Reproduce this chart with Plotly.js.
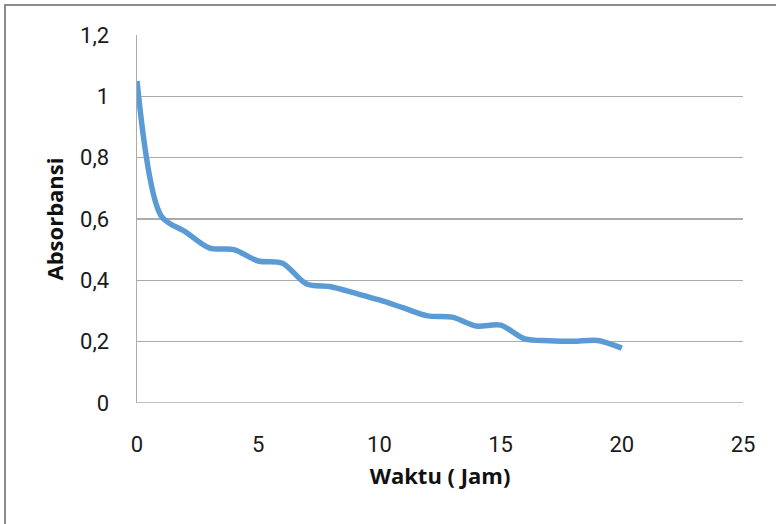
<!DOCTYPE html>
<html>
<head>
<meta charset="utf-8">
<script src="https://cdn.plot.ly/plotly-3.0.1.min.js"></script>
<style>
  html, body { margin: 0; padding: 0; background: #fff; }
  #wrap { position: relative; width: 776px; height: 524px; }
  #chart { width: 776px; height: 524px; }
  #frame { position: absolute; left: 4px; top: 4px; right: -10px; bottom: -10px;
           border-left: 2px solid #8c8c8c; border-top: 2px solid #8c8c8c; pointer-events: none; }
</style>
</head>
<body>
<div id="wrap">
  <div id="chart"></div>
  <div id="frame"></div>
</div>
<script>
const waktu = [0, 1, 2, 3, 4, 5, 6, 7, 8, 9, 10, 11, 12, 13, 14, 15, 16, 17, 18, 19, 20];
const absorbansi = [1.05, 0.61, 0.558, 0.505, 0.50, 0.463, 0.456, 0.388, 0.379, 0.358, 0.336, 0.31, 0.284, 0.28, 0.251, 0.254, 0.209, 0.203, 0.201, 0.204, 0.179];
const xTitle = "Waktu ( Jam)";
const yTitle = "Absorbansi";

const tickFont = { family: "Roboto, 'Liberation Sans', sans-serif", size: 22, color: "#1a1a1a" };
const titleFont = { family: "'Open Sans', Roboto, sans-serif", size: 22, color: "#111", weight: 700 };

const trace = {
  x: waktu,
  y: absorbansi,
  type: "scatter",
  mode: "lines",
  line: { color: "#5B9BD5", width: 5.5, shape: "spline", smoothing: 0.85 },
  hoverinfo: "skip"
};

const layout = {
  width: 776,
  height: 524,
  margin: { l: 137, r: 33, t: 35, b: 121, pad: 0 },
  paper_bgcolor: "#ffffff",
  plot_bgcolor: "#ffffff",
  separators: ",.",
  showlegend: false,
  xaxis: {
    range: [0, 25],
    tickvals: [0, 5, 10, 15, 20, 25],
    ticks: "outside",
    ticklen: 22,
    tickcolor: "rgba(0,0,0,0)",
    showgrid: false,
    zeroline: false,
    showline: false,
    tickfont: tickFont,
    title: { text: xTitle, font: titleFont, standoff: 12 },
    fixedrange: true
  },
  yaxis: {
    range: [0, 1.2],
    tickvals: [0, 0.2, 0.4, 0.6, 0.8, 1, 1.2],
    ticks: "outside",
    ticklen: 22,
    tickcolor: "rgba(0,0,0,0)",
    showgrid: true,
    gridcolor: "#ababab",
    gridwidth: 1.5,
    zeroline: false,
    showline: true,
    linecolor: "#ababab",
    linewidth: 1.5,
    tickfont: tickFont,
    title: { text: yTitle, font: titleFont, standoff: 10 },
    fixedrange: true
  },
  shapes: [{
    type: "line", xref: "paper", yref: "y", x0: 0, x1: 1, y0: 0, y1: 0,
    line: { color: "#ababab", width: 1.5 }, layer: "below"
  }]
};

Plotly.newPlot("chart", [trace], layout, { displayModeBar: false, staticPlot: true });
</script>
</body>
</html>
